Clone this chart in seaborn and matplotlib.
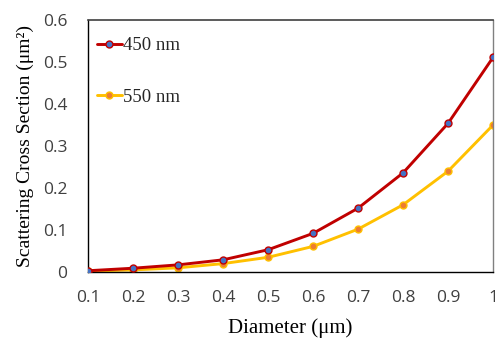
import numpy as np
import pandas as pd
import matplotlib
matplotlib.use("Agg")
import matplotlib.pyplot as plt
import seaborn as sns

diameter = [0.1, 0.2, 0.3, 0.4, 0.5, 0.6, 0.7, 0.8, 0.9, 1.0]
sigma_450 = [0.003, 0.009, 0.017, 0.029, 0.053, 0.092, 0.152, 0.236, 0.354, 0.511]
sigma_550 = [0.002, 0.005, 0.010, 0.020, 0.035, 0.061, 0.102, 0.160, 0.240, 0.350]
x_ticks = [0.1, 0.2, 0.3, 0.4, 0.5, 0.6, 0.7, 0.8, 0.9, 1.0]
x_tick_labels = ["0.1", "0.2", "0.3", "0.4", "0.5", "0.6", "0.7", "0.8", "0.9", "1"]
y_ticks = [0, 0.1, 0.2, 0.3, 0.4, 0.5, 0.6]
y_tick_labels = ["0", "0.1", "0.2", "0.3", "0.4", "0.5", "0.6"]

df450 = pd.DataFrame({"d": diameter, "s": sigma_450})
df550 = pd.DataFrame({"d": diameter, "s": sigma_550})

sns.set_theme(style="white")
plt.rcParams["font.family"] = ["Open Sans", "DejaVu Sans"]

fig = plt.figure(figsize=(4.95, 3.4), dpi=100)
ax = fig.add_axes([0.178, 0.2, 0.818, 0.741])

sns.lineplot(data=df450, x="d", y="s", ax=ax, color="#C00000", linewidth=2.1,
             marker="o", markersize=5, markerfacecolor="#4472C4",
             markeredgecolor="#C00000", markeredgewidth=1.0, label="450 nm", zorder=3)
sns.lineplot(data=df550, x="d", y="s", ax=ax, color="#FFC000", linewidth=2.1,
             marker="o", markersize=5, markerfacecolor="#ED7D31",
             markeredgecolor="#FFC000", markeredgewidth=1.0, label="550 nm", zorder=2)

ax.set_xlim(0.1, 1.0)
ax.set_ylim(0, 0.6)
ax.set_xticks(x_ticks)
ax.set_xticklabels(x_tick_labels)
ax.set_yticks(y_ticks)
ax.set_yticklabels(y_tick_labels)
ax.tick_params(axis="x", length=0, labelsize=12.5, labelcolor="#404040", pad=13)
ax.tick_params(axis="y", length=0, labelsize=12.5, labelcolor="#404040", pad=15)

for side in ["left", "bottom"]:
    ax.spines[side].set_color("black")
    ax.spines[side].set_linewidth(1.0)
ax.spines["top"].set_color("#404040")
ax.spines["top"].set_linewidth(1.2)
ax.spines["right"].set_color("#808080")
ax.spines["right"].set_linewidth(1.0)

serif = ["Liberation Serif", "DejaVu Serif"]
ax.set_xlabel("Diameter (\u03bcm)", fontsize=15, family=serif, color="black", labelpad=9)
ax.set_ylabel("Scattering Cross Section (\u03bcm\u00b2)", fontsize=14, family=serif,
              color="black", labelpad=6)

leg = ax.legend(loc="upper left", bbox_to_anchor=(-0.01, 0.985), frameon=False,
                prop={"family": serif, "size": 13.5}, handlelength=1.3,
                handletextpad=0.1, labelspacing=1.85, borderaxespad=0.3)

fig.savefig("out.png", dpi=100)
